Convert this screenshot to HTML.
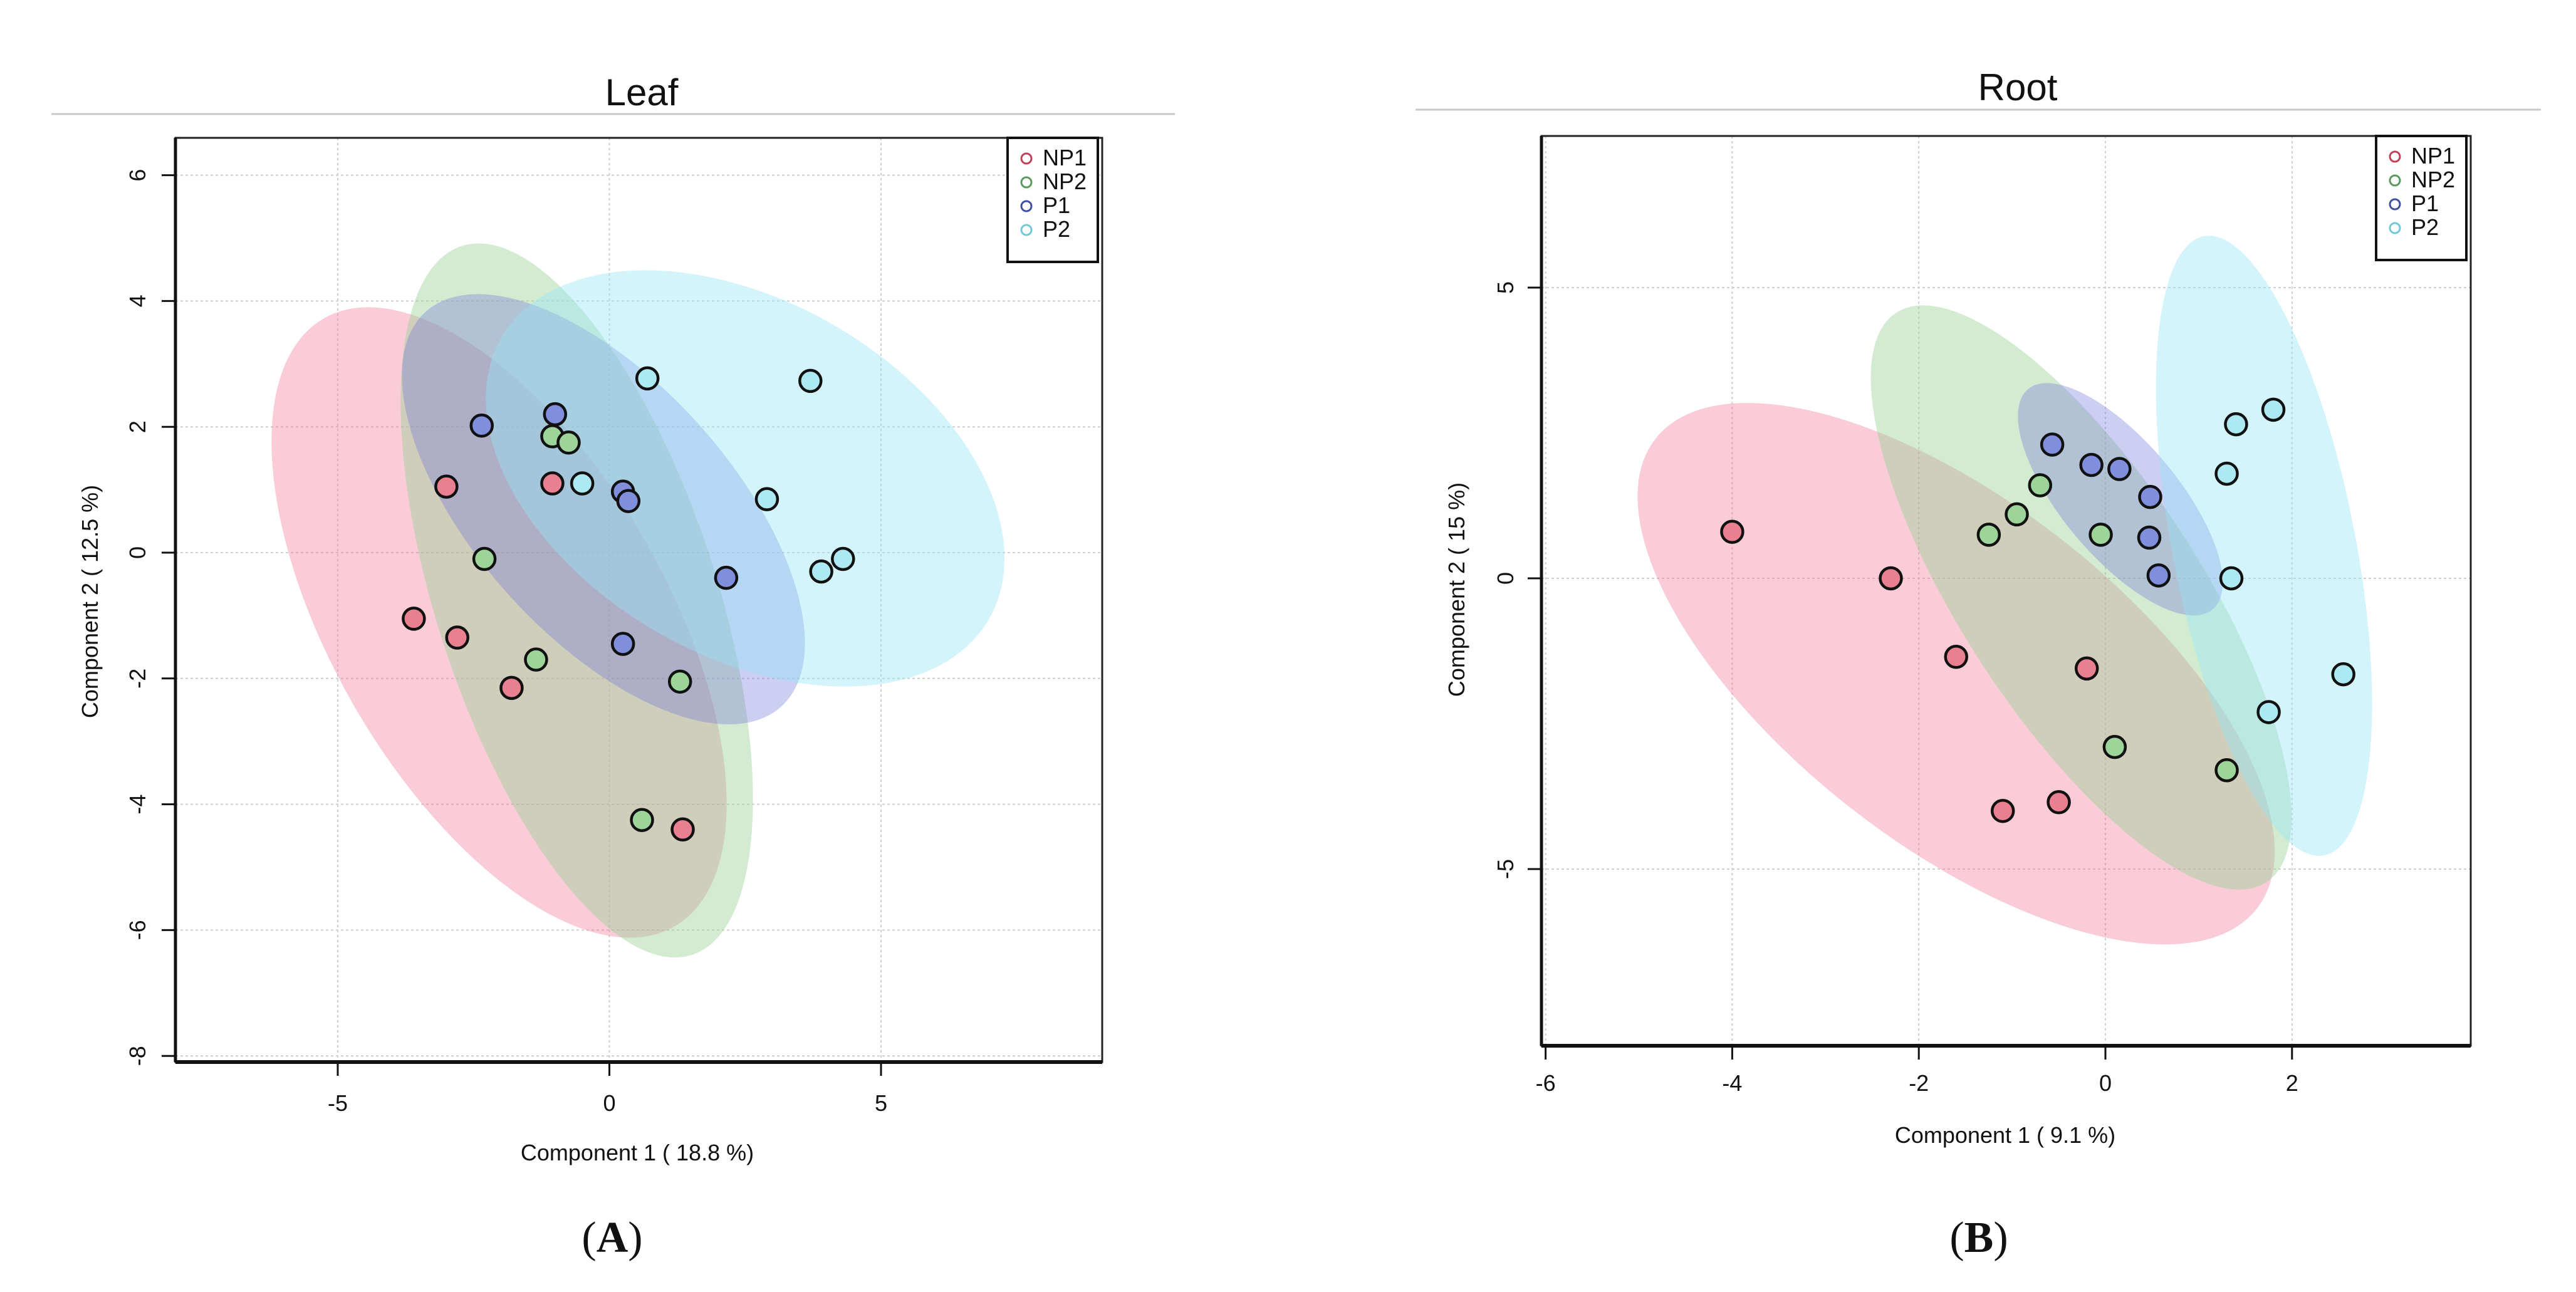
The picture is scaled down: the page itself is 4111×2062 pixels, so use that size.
<!DOCTYPE html>
<html><head><meta charset="utf-8">
<style>
html,body{margin:0;padding:0;background:#fff;}
svg{display:block;}
text{font-family:"Liberation Sans",sans-serif;fill:#111;}
</style></head>
<body>
<svg id="fig" width="4111" height="2062" viewBox="0 0 4111 2062" xmlns="http://www.w3.org/2000/svg"></svg>
<script>
// ---- Data: Leaf ----
const groups = ["NP1","NP2","P1","P2"];
const leafNP1x = [-3.0,-1.05,-3.6,-2.8,-1.8,1.35];
const leafNP1y = [1.05,1.1,-1.05,-1.35,-2.15,-4.4];
const leafNP2x = [-1.05,-0.75,-2.3,-1.35,1.3,0.6];
const leafNP2y = [1.85,1.75,-0.1,-1.7,-2.05,-4.25];
const leafP1x = [-2.35,-1.0,0.25,0.35,2.15,0.25];
const leafP1y = [2.02,2.2,0.97,0.82,-0.4,-1.45];
const leafP2x = [0.7,3.7,-0.5,2.9,3.9,4.3];
const leafP2y = [2.77,2.73,1.1,0.85,-0.3,-0.1];
// ellipse centres (data units), semi-axes (data units along x-scale) , angle deg
const leafEllCx = [-2.03,-0.6,-0.11,2.5];
const leafEllCy = [-1.11,-0.76,0.69,1.18];
const leafEllA = [6.46,6.86,4.89,5.18];
const leafEllB = [3.08,2.58,2.35,3.26];
const leafEllAng = [60,72,48,30];
const leafXTicks = [-5,0,5];
const leafYTicks = [6,4,2,0,-2,-4,-6,-8];
// ---- Data: Root ----
const rootNP1x = [-4.0,-2.3,-1.6,-0.2,-1.1,-0.5];
const rootNP1y = [0.8,0.0,-1.35,-1.55,-4.0,-3.85];
const rootNP2x = [-0.7,-0.95,-1.25,-0.05,0.1,1.3];
const rootNP2y = [1.6,1.1,0.75,0.75,-2.9,-3.3];
const rootP1x = [-0.57,-0.15,0.15,0.48,0.47,0.57];
const rootP1y = [2.3,1.95,1.88,1.4,0.7,0.05];
const rootP2x = [1.8,1.4,1.3,1.35,2.55,1.75];
const rootP2y = [2.9,2.65,1.8,0.0,-1.65,-2.3];
const rootEllCx = [-1.6,-0.26,0.16,1.7];
const rootEllCy = [-1.64,-0.33,1.36,0.56];
const rootEllA = [4.09,3.64,1.54,3.38];
const rootEllB = [1.83,1.28,0.62,0.98];
const rootEllAng = [38,57,50,79];
const rootXTicks = [-6,-4,-2,0,2];
const rootYTicks = [5,0,-5];

const ellFill = ["rgba(240,120,150,0.38)","rgba(150,210,145,0.42)","rgba(120,125,220,0.38)","rgba(150,228,245,0.42)"];
const ptFill = ["#e8808f","#9dd49a","#7f8fdc","#ade9f3"];
const legCol = ["#c0405a","#5a9a5a","#4050a0","#70c8d8"];

const NS="http://www.w3.org/2000/svg";
const svg=document.getElementById('fig');
function mk(tag,attrs,parent){const e=document.createElementNS(NS,tag);for(const k in attrs)e.setAttribute(k,attrs[k]);(parent||svg).appendChild(e);return e;}

function panel(cfg){
  const g=mk('g',{});
  
  
  const sx=v=>cfg.x0+(v-cfg.xa)*cfg.ux;
  const sy=v=>cfg.y0-(v-cfg.ya)*cfg.uy;
  // title
  const t=mk('text',{x:cfg.titleX,y:cfg.titleY,'font-size':60,'text-anchor':'middle'},g);
  t.textContent=cfg.title;
  
  
  const sep=mk('line',{x1:cfg.sepX1,x2:cfg.sepX2,y1:cfg.sepY,y2:cfg.sepY,stroke:'#c8c8c8','stroke-width':3},g);
  
  
  // grid
  cfg.xTicks.forEach(v=>{if(sx(v)>cfg.L+5){const l=mk('line',{x1:sx(v),x2:sx(v),y1:cfg.T,y2:cfg.B,stroke:'#d0d0d0','stroke-width':2,'stroke-dasharray':'4,4'},g);
    
    }});
  cfg.yTicks.forEach(v=>{const l=mk('line',{x1:cfg.L,x2:cfg.R,y1:sy(v),y2:sy(v),stroke:'#d0d0d0','stroke-width':2,'stroke-dasharray':'4,4'},g);
    
    });
  // ellipses
  for(let i=0;i<4;i++){
    const e=mk('ellipse',{cx:sx(cfg.ecx[i]),cy:sy(cfg.ecy[i]),rx:cfg.ea[i]*cfg.ux,ry:cfg.eb[i]*cfg.ux,fill:ellFill[i],transform:`rotate(${cfg.eang[i]} ${sx(cfg.ecx[i])} ${sy(cfg.ecy[i])})`},g);
    
    
  }
  // points
  for(let i=0;i<4;i++){
    const xs=cfg.px[i],ys=cfg.py[i];
    for(let j=0;j<xs.length;j++){
      const c=mk('circle',{cx:sx(xs[j]),cy:sy(ys[j]),r:17,fill:ptFill[i],stroke:'#111','stroke-width':4.5},g);
      
      
    }
  }
  // box
  const box=mk('rect',{x:cfg.L,y:cfg.T,width:cfg.R-cfg.L,height:cfg.B-cfg.T,fill:'none',stroke:'#222','stroke-width':3},g);
  
  
  const xa=mk('line',{x1:cfg.L,x2:cfg.R,y1:cfg.B,y2:cfg.B,stroke:'#111','stroke-width':6},g);
  
  
  const ya=mk('line',{x1:cfg.L,x2:cfg.L,y1:cfg.T,y2:cfg.B,stroke:'#111','stroke-width':5},g);
  
  
  // ticks
  cfg.xTicks.forEach(v=>{
    mk('line',{x1:sx(v),x2:sx(v),y1:cfg.B,y2:cfg.B+22,stroke:'#111','stroke-width':3},g);
    const tl=mk('text',{x:sx(v),y:cfg.xLabY,'font-size':36,'text-anchor':'middle'},g);
    tl.textContent=String(v);
    
    
  });
  cfg.yTicks.forEach(v=>{
    mk('line',{x1:cfg.L-22,x2:cfg.L,y1:sy(v),y2:sy(v),stroke:'#111','stroke-width':3},g);
    const tl=mk('text',{x:cfg.yLabX,y:sy(v),'font-size':36,'text-anchor':'middle',transform:`rotate(-90 ${cfg.yLabX} ${sy(v)})`},g);
    tl.textContent=String(v);
    
    
  });
  // axis titles
  const xt=mk('text',{x:cfg.xTitleX,y:cfg.xTitleY,'font-size':36,'text-anchor':'middle'},g);
  xt.textContent=cfg.xTitle;
  
  
  const yt=mk('text',{x:cfg.yTitleX,y:cfg.yTitleY,'font-size':36,'text-anchor':'middle',transform:`rotate(-90 ${cfg.yTitleX} ${cfg.yTitleY})`},g);
  yt.textContent=cfg.yTitle;
  
  
  // legend
  const lg=mk('g',{},g);
  
  
  mk('rect',{x:cfg.legX,y:cfg.legY,width:144,height:198,fill:'#fff',stroke:'#111','stroke-width':4},lg);
  for(let i=0;i<4;i++){
    const yy=cfg.legY+44+i*38;
    const m=mk('circle',{cx:cfg.legX+30,cy:yy-11,r:8,fill:'none',stroke:legCol[i],'stroke-width':3},lg);
    
    
    const lt=mk('text',{x:cfg.legX+56,y:yy,'font-size':36},lg);
    lt.textContent=groups[i];
    
    
  }
  // panel label
  const pl=mk('text',{x:cfg.plX,y:1998,'font-size':70,'text-anchor':'middle',style:'font-family:"Liberation Serif",serif'},g);
  pl.innerHTML='(<tspan font-weight="bold">'+cfg.pl+'</tspan>)';
  
  
}

panel({name:'leaf',title:'Leaf',titleX:1024,titleY:168,sepX1:82,sepX2:1875,sepY:182,
  L:280,R:1759,T:220,B:1695,x0:972.5,xa:0,ux:86.7,y0:882,ya:0,uy:100.4,
  xTicks:leafXTicks,yTicks:leafYTicks,xLabY:1773,yLabX:232,
  ecx:leafEllCx,ecy:leafEllCy,ea:leafEllA,eb:leafEllB,eang:leafEllAng,
  px:[leafNP1x,leafNP2x,leafP1x,leafP2x],py:[leafNP1y,leafNP2y,leafP1y,leafP2y],
  xTitle:'Component 1 ( 18.8 %)',xTitleX:1017,xTitleY:1852,yTitle:'Component 2 ( 12.5 %)',yTitleX:156,yTitleY:960,
  legX:1608,legY:220,plX:977,pl:'A'});
panel({name:'root',title:'Root',titleX:3220,titleY:160,sepX1:2259,sepX2:4055,sepY:175,
  L:2460,R:3943,T:217,B:1669,x0:3360,xa:0,ux:148.9,y0:923,ya:0,uy:92.8,
  xTicks:rootXTicks,yTicks:rootYTicks,xLabY:1741,yLabX:2415,
  ecx:rootEllCx,ecy:rootEllCy,ea:rootEllA,eb:rootEllB,eang:rootEllAng,
  px:[rootNP1x,rootNP2x,rootP1x,rootP2x],py:[rootNP1y,rootNP2y,rootP1y,rootP2y],
  xTitle:'Component 1 ( 9.1 %)',xTitleX:3200,xTitleY:1824,yTitle:'Component 2 ( 15 %)',yTitleX:2337,yTitleY:941,
  legX:3792,legY:217,plX:3158,pl:'B'});
</script>
</body></html>
